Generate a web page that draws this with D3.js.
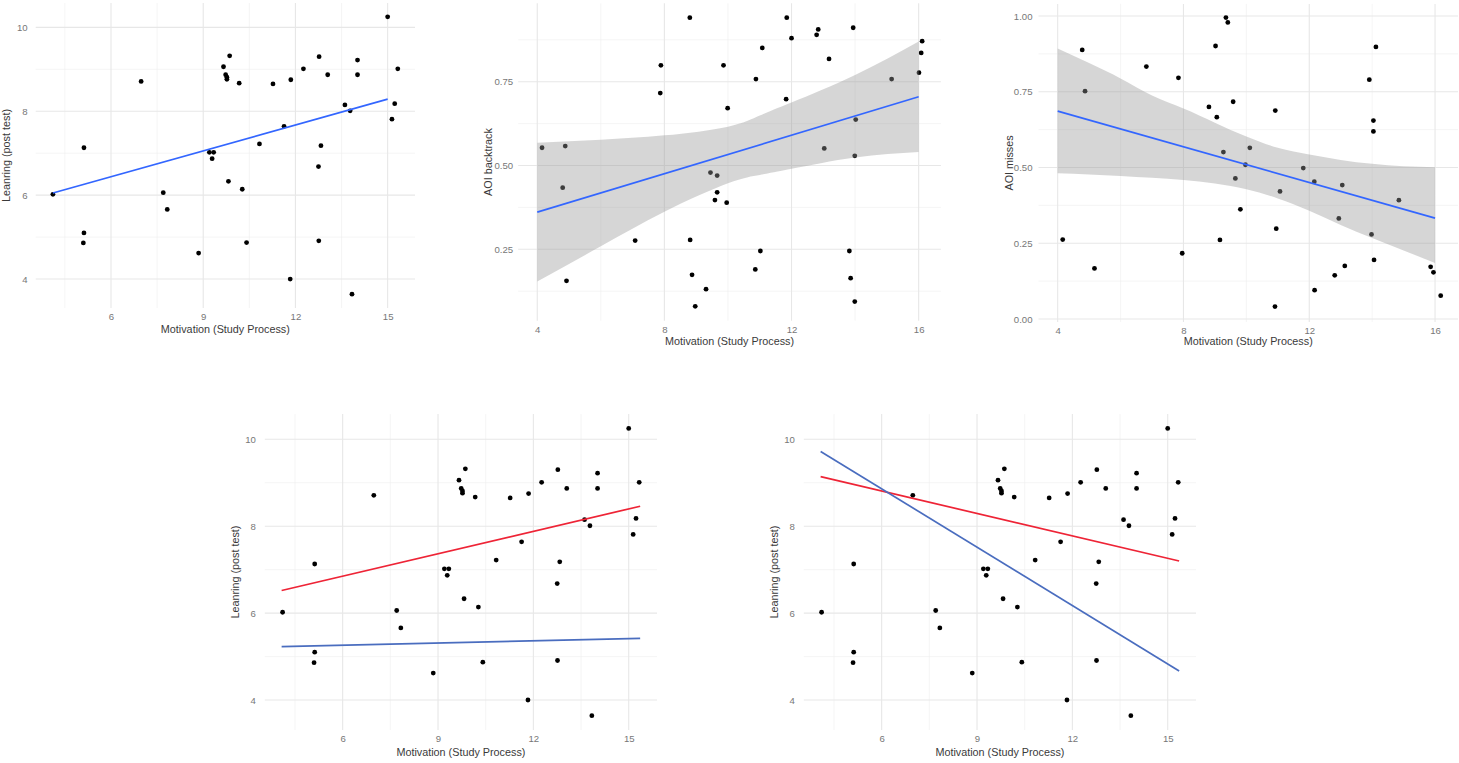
<!DOCTYPE html>
<html>
<head>
<meta charset="utf-8">
<script src="https://cdn.jsdelivr.net/npm/d3@7"></script>
<style>
  body { margin: 0; background: #fff; }
  svg text { font-family: "Liberation Sans", Arial, sans-serif; }
  .tick text { fill: #777; font-size: 9.6px; }
  .title { fill: #3a3a3a; font-size: 10.8px; }
</style>
</head>
<body>
<div id="graph"></div>
<script>
// learning post test vs motivation (panels 1, 4, 5)
const motivation = [4.11, 5.12, 5.12, 5.10, 6.98, 7.70, 7.83, 8.85, 9.20, 9.34, 9.29, 9.66, 9.86, 9.73, 9.77, 9.77, 9.82, 10.17, 10.27, 10.41,
  10.83, 11.27, 11.63, 11.85, 11.83, 12.26, 12.77, 13.05, 12.83, 12.75, 12.76, 13.61, 13.78, 13.84, 14.02, 14.02, 15.0, 15.33, 15.23, 15.14];
const learning = [6.02, 7.13, 5.10, 4.86, 8.71, 6.06, 5.66, 4.62, 7.02, 7.02, 6.87, 9.06, 9.32, 8.87, 8.81, 8.76, 6.33, 8.67, 6.14, 4.87,
  7.22, 8.65, 7.64, 8.75, 4.0, 9.01, 9.30, 8.87, 7.18, 6.68, 4.91, 8.15, 8.01, 3.64, 9.22, 8.87, 10.25, 9.01, 8.18, 7.81];

// AOI backtrack vs motivation (panel 2)
const backtrackX = [4.15, 4.88, 4.80, 4.92, 7.08, 7.89, 7.87, 8.80, 8.81, 8.87, 8.97, 9.31, 9.45, 9.66, 9.66, 9.59, 9.96, 9.86, 9.99, 10.88,
  11.08, 10.86, 11.02, 11.83, 11.85, 12.0, 12.79, 12.84, 13.18, 13.03, 13.94, 13.82, 13.86, 13.99, 14.02, 13.99, 15.15, 16.01, 16.08, 16.11];
const backtrackY = [0.553, 0.558, 0.434, 0.156, 0.276, 0.799, 0.716, 0.941, 0.278, 0.174, 0.080, 0.131, 0.479, 0.470, 0.420, 0.397, 0.389, 0.799, 0.671, 0.758,
  0.851, 0.190, 0.245, 0.698, 0.941, 0.880, 0.890, 0.906, 0.818, 0.551, 0.911, 0.245, 0.164, 0.094, 0.637, 0.529, 0.758, 0.777, 0.836, 0.871];

// AOI misses vs motivation (panel 3)
const missesX = [4.16, 4.78, 4.87, 5.17, 6.82, 7.84, 7.96, 8.81, 9.02, 9.06, 9.16, 9.27, 9.35, 9.41, 9.58, 9.65, 9.81, 9.97, 10.11, 10.92,
  10.95, 10.91, 11.07, 11.81, 12.16, 12.17, 12.81, 12.94, 13.05, 13.13, 13.91, 14.04, 14.04, 14.12, 13.98, 14.06, 14.85, 15.86, 15.95, 16.18];
const missesY = [0.262, 0.888, 0.752, 0.167, 0.833, 0.796, 0.217, 0.700, 0.901, 0.666, 0.261, 0.551, 0.995, 0.979, 0.717, 0.464, 0.362, 0.509, 0.565, 0.688,
  0.298, 0.041, 0.421, 0.498, 0.453, 0.095, 0.144, 0.332, 0.442, 0.175, 0.790, 0.655, 0.619, 0.898, 0.279, 0.195, 0.392, 0.172, 0.154, 0.077];

// fitted lines (end points)
const fitLearnX = [4.11, 15.0];
const fitLearnY = [6.05, 8.29];
const fitBackX = [4.0, 16.0];
const fitBackY = [0.361, 0.705];
const fitMissX = [4.0, 16.0];
const fitMissY = [0.686, 0.333];
const groupLineX = [4.08, 15.36];
const leftRedY = [6.52, 8.46];
const leftBlueY = [5.23, 5.42];
const rightRedY = [9.14, 7.20];
const rightBlueY = [9.72, 4.67];

// confidence bands
const bandBackX = [4, 6, 8, 10, 11, 12, 14, 16];
const bandBackHi = [0.568, 0.577, 0.590, 0.616, 0.649, 0.688, 0.770, 0.870];
const bandBackLo = [0.154, 0.259, 0.362, 0.447, 0.472, 0.490, 0.524, 0.540];
const bandMissX = [4, 5, 6, 7, 8, 9, 10, 11, 12, 13, 14, 15, 16];
const bandMissHi = [0.893, 0.845, 0.794, 0.738, 0.695, 0.648, 0.602, 0.565, 0.543, 0.525, 0.512, 0.504, 0.501];
const bandMissLo = [0.481, 0.477, 0.472, 0.466, 0.459, 0.447, 0.428, 0.398, 0.357, 0.310, 0.267, 0.226, 0.185];

// ticks
const learnXTicks = [6, 9, 12, 15];
const learnXMinor = [4.5, 7.5, 10.5, 13.5];
const learnYTicks = [4, 6, 8, 10];
const learnYMinor = [5, 7, 9];
const aoiXTicks = [4, 8, 12, 16];
const aoiXMinor = [6, 10, 14];
const backYTicks = [0.25, 0.5, 0.75];
const missYTicks = [0, 0.25, 0.5, 0.75, 1];
const aoiYMinor = [0.125, 0.375, 0.625, 0.875];

const xTitle = "Motivation (Study Process)";
const blue = "#3366ff";
const red = "#ee2436";
const steel = "#4a6dbf";

const w = 1459;
const h = 763;
const svg = d3.select("#graph").append("svg").attr("width", w).attr("height", h);

const panels = [
  {
    box: [35.7, 415, 3, 308], xDom: [3.55, 15.89], yDom: [3.31, 10.58],
    xT: learnXTicks, xM: learnXMinor, yT: learnYTicks, yM: learnYMinor, fmt: d3.format("d"),
    yTitle: "Leanring (post test)", xs: motivation, ys: learning,
    lines: [{ x: fitLearnX, y: fitLearnY, c: blue }], ypad: 8, ttl: 25,
  },
  {
    box: [518.2, 940.9, 3.3, 320.7], xDom: [3.4, 16.7], yDom: [0.037, 0.984],
    xT: aoiXTicks, xM: aoiXMinor, yT: backYTicks, yM: aoiYMinor, fmt: d3.format(".2f"),
    yTitle: "AOI backtrack", xs: backtrackX, ys: backtrackY,
    band: { x: bandBackX, hi: bandBackHi, lo: bandBackLo },
    lines: [{ x: fitBackX, y: fitBackY, c: blue }], ypad: 5, ttl: 24,
  },
  {
    box: [1038.5, 1458, 3.9, 322], xDom: [3.39, 16.73], yDom: [-0.01, 1.04],
    xT: aoiXTicks, xM: aoiXMinor, yT: missYTicks, yM: aoiYMinor, fmt: d3.format(".2f"),
    yTitle: "AOI misses", xs: missesX, ys: missesY,
    band: { x: bandMissX, hi: bandMissHi, lo: bandMissLo },
    lines: [{ x: fitMissX, y: fitMissY, c: blue }], ypad: 6, ttl: 23,
  },
  {
    box: [264.8, 657, 414.1, 730], xDom: [3.55, 15.89], yDom: [3.31, 10.58],
    xT: learnXTicks, xM: learnXMinor, yT: learnYTicks, yM: learnYMinor, fmt: d3.format("d"),
    yTitle: "Leanring (post test)", xs: motivation, ys: learning,
    lines: [{ x: groupLineX, y: leftRedY, c: red }, { x: groupLineX, y: leftBlueY, c: steel }], ypad: 9, ttl: 26,
  },
  {
    box: [803.8, 1196, 414.1, 730], xDom: [3.55, 15.89], yDom: [3.31, 10.58],
    xT: learnXTicks, xM: learnXMinor, yT: learnYTicks, yM: learnYMinor, fmt: d3.format("d"),
    yTitle: "Leanring (post test)", xs: motivation, ys: learning,
    lines: [{ x: groupLineX, y: rightRedY, c: red }, { x: groupLineX, y: rightBlueY, c: steel }], ypad: 9, ttl: 26,
  },
];

const drawPanel = (p) => {
  const [x0, x1, y0, y1] = p.box;
  const x = d3.scaleLinear().domain(p.xDom).range([x0, x1]);
  const y = d3.scaleLinear().domain(p.yDom).range([y1, y0]);
  const g = svg.append("g");

  // grid
  const grid = g.append("g");
  grid.selectAll(".vmin").data(p.xM).enter().append("line")
    .attr("x1", (d) => x(d)).attr("x2", (d) => x(d)).attr("y1", y0).attr("y2", y1)
    .attr("stroke", "#efefef").attr("stroke-width", 0.6);
  grid.selectAll(".hmin").data(p.yM).enter().append("line")
    .attr("y1", (d) => y(d)).attr("y2", (d) => y(d)).attr("x1", x0).attr("x2", x1)
    .attr("stroke", "#efefef").attr("stroke-width", 0.6);
  grid.selectAll(".vmaj").data(p.xT).enter().append("line")
    .attr("x1", (d) => x(d)).attr("x2", (d) => x(d)).attr("y1", y0).attr("y2", y1)
    .attr("stroke", "#e7e7e7").attr("stroke-width", 1.1);
  grid.selectAll(".hmaj").data(p.yT).enter().append("line")
    .attr("y1", (d) => y(d)).attr("y2", (d) => y(d)).attr("x1", x0).attr("x2", x1)
    .attr("stroke", "#e7e7e7").attr("stroke-width", 1.1);

  // points
  g.append("g").selectAll("circle").data(p.xs.map((v, i) => [v, p.ys[i]])).enter().append("circle")
    .attr("cx", (d) => x(d[0])).attr("cy", (d) => y(d[1])).attr("r", 2.4).attr("fill", "#000");

  // band drawn over the points, like ggplot
  if (p.band) {
    const area = d3.area()
      .x((d, i) => x(p.band.x[i]))
      .y0((d, i) => y(p.band.lo[i]))
      .y1((d, i) => y(p.band.hi[i]))
      .curve(d3.curveNatural);
    g.append("path").attr("d", area(p.band.x)).attr("fill", "#999").attr("fill-opacity", 0.4);
  }

  p.lines.forEach((l) => {
    const line = d3.line().x((d, i) => x(l.x[i])).y((d, i) => y(l.y[i]));
    g.append("path").attr("d", line(l.x)).attr("fill", "none").attr("stroke", l.c).attr("stroke-width", 1.7);
  });

  // axes
  g.append("g").attr("transform", `translate(0,${y1})`)
    .call(d3.axisBottom(x).tickValues(p.xT).tickSize(0).tickPadding(5).tickFormat(d3.format("d")))
    .call((a) => a.select(".domain").remove());
  g.append("g").attr("transform", `translate(${x0},0)`)
    .call(d3.axisLeft(y).tickValues(p.yT).tickSize(0).tickPadding(p.ypad).tickFormat(p.fmt))
    .call((a) => a.select(".domain").remove());
  g.selectAll(".tick text").attr("font-family", null).attr("font-size", null);

  g.append("text").attr("class", "title").attr("text-anchor", "middle")
    .attr("x", (x0 + x1) / 2).attr("y", y1 + p.ttl).text(xTitle);
  g.append("text").attr("class", "title").attr("text-anchor", "middle")
    .attr("transform", `translate(${x0 - 26},${(y0 + y1) / 2}) rotate(-90)`).text(p.yTitle);
};

panels.forEach(drawPanel);
</script>
</body>
</html>
